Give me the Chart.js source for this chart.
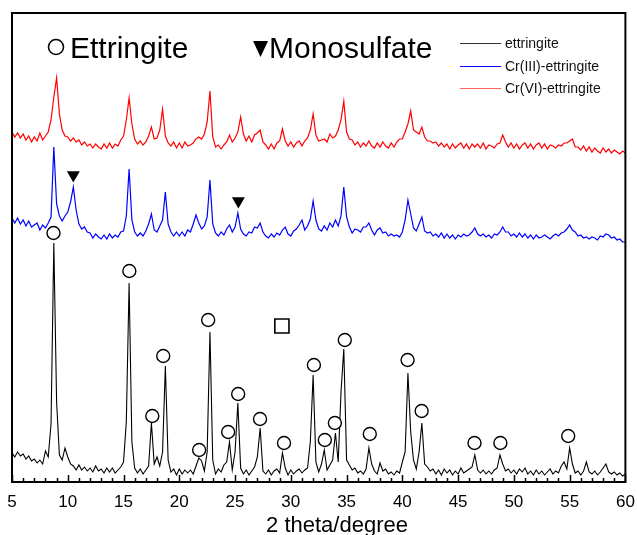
<!DOCTYPE html>
<html>
<head>
<meta charset="utf-8">
<script src="https://cdn.jsdelivr.net/npm/chart.js@4.4.1/dist/chart.umd.min.js"></script>
<style>
  html, body { margin: 0; padding: 0; background: #fff; }
  canvas { display: block; }
</style>
</head>
<body>
<canvas id="xrd" width="637" height="535"></canvas>
<script>
// step scan 5..60 deg, 0.25 deg per point, one row = one degree
const SCAN_START = 5;
const SCAN_STEP = 0.25;

const ettringite = [
  29, 25, 30, 26,   28, 23, 26, 21,   23, 19, 22, 18,   31, 25, 58, 239,   // 5-8
  80, 27, 22, 34,   25, 18, 16, 12,   17, 12, 15, 11,   14, 10, 16, 11,    // 9-12
  13, 9, 14, 10,    14, 9, 12, 15,    20, 60, 199, 40,  14, 9, 13, 8,      // 13-16
  12, 16, 59, 18,   25, 16, 30, 116,  22, 10, 13, 7,    13, 8, 12, 9,      // 17-20
  12, 8, 16, 24,    21, 11, 30, 150,  22, 8, 13, 10,    17, 20, 40, 12,    // 21-24
  30, 79, 14, 8,    12, 7, 11, 15,    25, 54, 11, 8,    12, 7, 11, 13,     // 25-28
  9, 29, 14, 7,     12, 8, 11, 13,    9, 12, 14, 40,    107, 20, 10, 18,   // 29-32
  32, 12, 17, 22,   49, 20, 90, 133,  22, 17, 12, 14,   9, 11, 8, 13,      // 33-36
  34, 18, 11, 8,    19, 11, 13, 8,    10, 7, 11, 9,     20, 30, 109, 50,   // 37-40
  22, 13, 30, 59,   18, 15, 11, 13,   8, 12, 7, 13,     9, 12, 7, 11,      // 41-44
  8, 14, 9, 11,     13, 15, 27, 12,   9, 12, 8, 11,     8, 12, 14, 27,     // 45-48
  18, 11, 13, 9,    12, 8, 13, 10,    14, 8, 11, 7,     12, 8, 11, 7,      // 49-52
  10, 13, 8, 11,    9, 16, 20, 13,    34, 18, 9, 11,    7, 11, 20, 10,     // 53-56
  8, 11, 7, 10,     14, 18, 10, 8,    10, 7, 9, 6,      8                  // 57-60
];

const cr3Ettringite = [
  264, 259, 264, 258,  262, 256, 261, 255,  257, 259, 252, 257,  254, 259, 265, 335,
  278, 266, 261, 266,  270, 280, 295, 272,  258, 253, 255, 250,  249, 244, 248, 245,
  243, 247, 243, 248,  244, 247, 245, 250,  251, 266, 313, 262,  250, 246, 249, 246,
  251, 258, 268, 252,  250, 256, 262, 290,  258, 250, 246, 250,  246, 250, 246, 252,
  250, 258, 267, 259,  253, 256, 265, 302,  258, 249, 246, 250,  247, 253, 257, 250,
  255, 269, 253, 248,  246, 250, 249, 255,  254, 259, 250, 246,  244, 248, 245, 249,
  247, 252, 255, 248,  246, 251, 253, 257,  262, 252, 256, 263,  281, 262, 253, 251,
  256, 252, 259, 255,  262, 256, 266, 295,  265, 255, 249, 253,  252, 250, 255, 255,
  259, 252, 247, 252,  254, 249, 250, 246,  248, 246, 247, 245,  250, 262, 282, 268,
  254, 251, 258, 265,  251, 249, 250, 246,  248, 245, 249, 244,  248, 244, 247, 243,
  247, 245, 248, 246,  247, 250, 254, 248,  246, 248, 245, 247,  244, 248, 247, 250,
  255, 250, 250, 246,  248, 245, 249, 245,  248, 244, 247, 243,  247, 244, 245, 247,
  245, 243, 246, 248,  246, 249, 250, 253,  257, 252, 250, 246,  247, 244, 245, 243,
  245, 244, 242, 246,  245, 248, 247, 244,  245, 242, 243, 240,  240
];

const cr6Ettringite = [
  350, 345, 349, 344,  348, 342, 346, 340,  345, 341, 349, 342,  346, 350, 362, 385,
  404, 368, 352, 346,  345, 341, 344, 340,  342, 337, 340, 336,  338, 334, 338, 335,
  333, 338, 334, 339,  334, 338, 336, 342,  346, 362, 384, 358,  343, 338, 341, 337,
  340, 346, 355, 343,  344, 352, 373, 346,  339, 336, 340, 334,  339, 334, 340, 336,
  337, 339, 343, 345,  343, 348, 360, 391,  345, 335, 337, 333,  337, 340, 347, 340,
  344, 350, 365, 348,  341, 346, 340, 347,  349, 352, 340, 337,  333, 338, 333, 339,
  341, 353, 341, 336,  340, 335, 339, 341,  336, 341, 344, 352,  368, 347, 341, 342,
  343, 340, 348, 344,  346, 352, 362, 381,  350, 343, 342, 337,  340, 335, 339, 336,
  341, 336, 334, 339,  335, 340, 336, 334,  339, 335, 340, 343,  343, 350, 358, 371,
  352, 350, 348, 355,  345, 341, 341, 339,  340, 336, 339, 335,  338, 333, 338, 334,
  337, 339, 334, 338,  333, 338, 335, 338,  334, 339, 333, 337,  336, 334, 338, 339,
  347, 340, 335, 339,  334, 338, 333, 337,  339, 334, 338, 333,  337, 339, 334, 338,
  333, 337, 336, 334,  337, 336, 339, 339,  341, 343, 335, 335,  332, 336, 331, 335,
  330, 334, 331, 329,  334, 330, 333, 329,  332, 330, 328, 331,  329
];

// peak markers
const ettMarkX = [8.72, 15.52, 17.58, 18.56, 21.78, 22.59, 24.38, 25.28, 27.24, 29.39,
                  32.07, 33.05, 33.95, 34.84, 37.08, 40.47, 41.73, 46.47, 48.79, 54.87];
const ettMarkY = [249, 211, 66, 126, 32, 162, 50, 88, 63, 39,
                  117, 42, 59, 142, 48, 122, 71, 39, 39, 46];
const monoMarkX = [10.5, 25.3];
const monoMarkY = [307, 281];
const squareMarkX = [29.2];
const squareMarkY = [156];

const tickLabels = [5, 10, 15, 20, 25, 30, 35, 40, 45, 50, 55, 60];
const seriesNames = ['ettringite', 'Cr(III)-ettringite', 'Cr(VI)-ettringite'];
const seriesColors = ['#000000', '#0000ff', '#ff0000'];
const legendColors = ['#333333', '#0000ff', '#ff6060'];

const FONT = 'Arial, "Liberation Sans", sans-serif';

function toXY(arr) {
  return arr.map((v, i) => ({ x: SCAN_START + i * SCAN_STEP, y: v }));
}
function pairs(xs, ys) {
  return xs.map((x, i) => ({ x: x, y: ys[i] }));
}

const decor = {
  id: 'decor',
  afterDraw(chart) {
    const ctx = chart.ctx;
    const a = chart.chartArea;
    const xs = chart.scales.x;
    ctx.save();

    // frame
    ctx.strokeStyle = '#000';
    ctx.lineWidth = 2;
    ctx.strokeRect(a.left, a.top, a.right - a.left, a.bottom - a.top);

    // inward ticks
    ctx.lineWidth = 1.5;
    ctx.beginPath();
    for (let d = 5; d <= 60; d++) {
      const px = Math.round(xs.getPixelForValue(d)) + 0.5;
      const len = d % 5 === 0 ? 7 : 4;
      ctx.moveTo(px, a.bottom);
      ctx.lineTo(px, a.bottom - len);
    }
    ctx.stroke();

    // tick labels
    ctx.fillStyle = '#000';
    ctx.font = '17px ' + FONT;
    ctx.textAlign = 'center';
    ctx.textBaseline = 'middle';
    tickLabels.forEach(t => ctx.fillText(String(t), xs.getPixelForValue(t), 502));

    // axis title
    ctx.font = '22px ' + FONT;
    ctx.fillText('2 theta/degree', 337, 526);

    // big marker key
    ctx.textAlign = 'left';
    ctx.textBaseline = 'alphabetic';
    ctx.font = '30px ' + FONT;
    ctx.lineWidth = 1.6;
    ctx.beginPath();
    ctx.arc(56, 47, 7.5, 0, Math.PI * 2);
    ctx.stroke();
    ctx.fillText('Ettringite', 70, 58);
    ctx.beginPath();
    ctx.moveTo(253, 41);
    ctx.lineTo(268, 41);
    ctx.lineTo(260.5, 57);
    ctx.closePath();
    ctx.fill();
    ctx.fillText('Monosulfate', 269, 58);

    // series legend
    ctx.font = '14px ' + FONT;
    ctx.textBaseline = 'middle';
    ctx.lineWidth = 1;
    const rows = [43, 66, 88];
    seriesNames.forEach((name, i) => {
      ctx.strokeStyle = legendColors[i];
      ctx.beginPath();
      ctx.moveTo(460, rows[i] + 0.5);
      ctx.lineTo(501, rows[i] + 0.5);
      ctx.stroke();
      ctx.fillStyle = '#111';
      ctx.fillText(name, 505, rows[i] + 1);
    });
    ctx.restore();
  }
};

new Chart(document.getElementById('xrd').getContext('2d'), {
  type: 'line',
  data: {
    datasets: [
      {
        type: 'scatter',
        data: pairs(ettMarkX, ettMarkY),
        pointStyle: 'circle',
        pointRadius: 6.5,
        pointBorderWidth: 1.4,
        pointBackgroundColor: '#fff',
        pointBorderColor: '#000'
      },
      {
        type: 'scatter',
        data: pairs(monoMarkX, monoMarkY),
        pointStyle: 'triangle',
        rotation: 180,
        pointRadius: 7.5,
        pointBorderWidth: 0,
        pointBackgroundColor: '#000',
        pointBorderColor: '#000'
      },
      {
        type: 'scatter',
        data: pairs(squareMarkX, squareMarkY),
        pointStyle: 'rect',
        pointRadius: 10,
        pointBorderWidth: 1.6,
        pointBackgroundColor: '#fff',
        pointBorderColor: '#000'
      },
      {
        label: seriesNames[0],
        data: toXY(ettringite),
        borderColor: seriesColors[0],
        borderWidth: 1.1,
        pointRadius: 0,
        tension: 0
      },
      {
        label: seriesNames[1],
        data: toXY(cr3Ettringite),
        borderColor: seriesColors[1],
        borderWidth: 1.2,
        pointRadius: 0,
        tension: 0
      },
      {
        label: seriesNames[2],
        data: toXY(cr6Ettringite),
        borderColor: seriesColors[2],
        borderWidth: 1.2,
        pointRadius: 0,
        tension: 0
      }
    ]
  },
  options: {
    responsive: false,
    animation: false,
    layout: { padding: { left: 12, right: 10, top: 13, bottom: 53 } },
    plugins: {
      legend: { display: false },
      tooltip: { enabled: false }
    },
    scales: {
      x: { type: 'linear', min: 5, max: 60, display: false },
      y: { type: 'linear', min: 0, max: 469, display: false }
    }
  },
  plugins: [decor]
});
</script>
</body>
</html>
